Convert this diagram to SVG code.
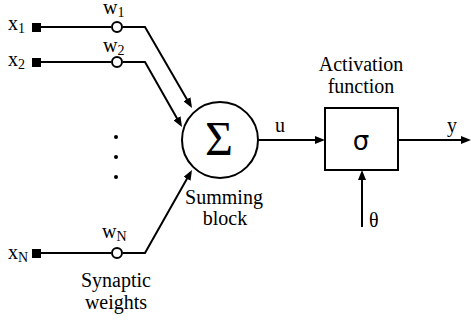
<svg xmlns="http://www.w3.org/2000/svg" width="471" height="321" viewBox="0 0 471 321">
<style>
.ln{fill:none;stroke:#000;stroke-width:2}
.t{font-family:'Liberation Serif','DejaVu Serif','Times New Roman',serif;fill:#000;font-size:20px}
.s{font-size:14px}
.c{text-anchor:middle}
</style>
<defs>
<marker id="ah" markerUnits="userSpaceOnUse" markerWidth="10" markerHeight="8" refX="7" refY="4" orient="auto">
<path d="M0,0 L10,4 L0,8 z" fill="#000"/>
</marker>
</defs>
<rect width="471" height="321" fill="#fff"/>
<g id="connectors">
<path class="ln" d="M41,27 H111 M123,27 H145 L190.5,105.4" marker-end="url(#ah)"/>
<path class="ln" d="M41,62 H111 M123,62 H145 L180.5,124.4" marker-end="url(#ah)"/>
<path class="ln" d="M40,253 H111 M123,253 H145 L190.5,172.6" marker-end="url(#ah)"/>
<path class="ln" d="M259,140 H322" marker-end="url(#ah)"/>
<path class="ln" d="M398,140 H468" marker-end="url(#ah)"/>
<path class="ln" d="M362,227 V173" marker-end="url(#ah)"/>
</g>
<g id="input1">
<rect x="32" y="23" width="9" height="9" fill="#000"/>
<text class="t" x="8" y="30" font-family="Liberation Serif, serif">x<tspan class="s" dy="3">1</tspan></text>
</g>
<g id="input2">
<rect x="32" y="58" width="9" height="9" fill="#000"/>
<text class="t" x="8" y="66">x<tspan class="s" dy="3">2</tspan></text>
</g>
<g id="inputN">
<rect x="32" y="249" width="9" height="9" fill="#000"/>
<text class="t" x="8" y="259">x<tspan class="s" dy="3">N</tspan></text>
</g>
<g id="weight1">
<circle class="ln" cx="117" cy="27" r="5"/>
<text class="t" x="103" y="14">w<tspan class="s" dy="3">1</tspan></text>
</g>
<g id="weight2">
<circle class="ln" cx="117" cy="62" r="5"/>
<text class="t" x="103" y="52">w<tspan class="s" dy="3">2</tspan></text>
</g>
<g id="weightN">
<circle class="ln" cx="117" cy="253" r="5"/>
<text class="t" x="102" y="238">w<tspan class="s" dy="3">N</tspan></text>
</g>
<g id="dots">
<circle cx="116" cy="137" r="2" fill="#000"/>
<circle cx="116" cy="157" r="2" fill="#000"/>
<circle cx="116" cy="177" r="2" fill="#000"/>
</g>
<g id="synaptic-label">
<text class="t c" x="116" y="287">Synaptic</text>
<text class="t c" x="116" y="309">weights</text>
</g>
<g id="sum">
<circle class="ln" cx="220" cy="140" r="38"/>
<text class="t c" x="219" y="155" style="font-size:48px">Σ</text>
<text class="t c" x="224" y="204">Summing</text>
<text class="t c" x="225" y="225">block</text>
</g>
<text class="t" x="275" y="132">u</text>
<g id="activation">
<rect class="ln" x="325" y="108" width="73" height="62"/>
<text x="361" y="150" text-anchor="middle" style="font-family:'DejaVu Sans',sans-serif;font-size:26px">σ</text>
<text class="t c" x="361" y="71">Activation</text>
<text class="t c" x="361" y="93">function</text>
</g>
<text class="t" x="447" y="132">y</text>
<text class="t" x="369" y="227">θ</text>
</svg>
